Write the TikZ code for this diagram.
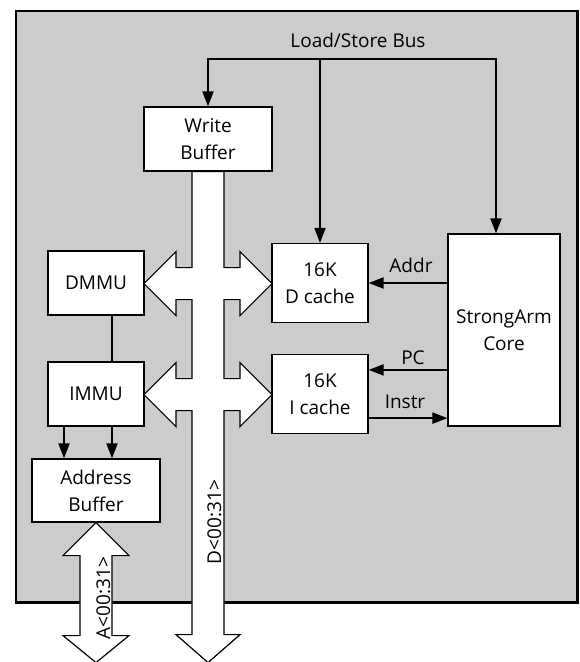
\documentclass[tikz,border=0pt]{standalone}
\usepackage{fontspec}
\usetikzlibrary{arrows.meta,calc}
\newfontfamily\SAFont{Open Sans}
\definecolor{saPanel}{HTML}{CCCCCC}
\definecolor{saInk}{HTML}{000000}
\newcommand{\SAType}{\SAFont\fontsize{19}{27}\selectfont}
\tikzset{sa/base/.style={x=1pt,y=1pt,line cap=butt,line join=miter,
  every node/.style={font=\SAType,inner sep=0pt,text=saInk}},
  sa/arrow/.style={-{Triangle[length=15pt,width=11pt]},draw=saInk,line width=2pt},
  sa/twoway/.style={{Triangle[length=15pt,width=11pt]}-{Triangle[length=15pt,width=11pt]},
    draw=saInk,line width=2pt},
  sa/link/.style={draw=saInk,line width=1.8pt},
  sa/unit/.style={draw=saInk,fill=white,line width=1.2pt,align=center},
  sa/bus/.style={draw=saInk,fill=white,line width=1.2pt},
  sa/chip/.style={draw=saInk,fill=saPanel,line width=2.5pt}}

\begin{document}
\begin{tikzpicture}[sa/base,y=-1pt]
  \useasboundingbox (0,0) rectangle (579,662);
  \draw[sa/chip] (16,11) rectangle (577.5,602.5);
  \node[sa/unit,minimum width=128pt,minimum height=64pt] (wbuf) at (208,139) {Write\\Buffer};
  \node[sa/unit,minimum width=96pt,minimum height=64pt] (dmmu) at (96,283) {DMMU};
  \node[sa/unit,minimum width=96pt,minimum height=64pt] (immu) at (96,394) {IMMU};
  \node[sa/unit,minimum width=128pt,minimum height=63pt] (abuf) at (96,490.5) {Address\\Buffer};
  \node[sa/unit,minimum width=96pt,minimum height=79pt] (dcache) at (320,283) {16K\\D cache};
  \node[sa/unit,minimum width=96pt,minimum height=79pt] (icache) at (320,394) {16K\\I cache};
  \node[sa/unit,minimum width=112pt,minimum height=192pt] (core) at (504,330) {StrongArm\\Core};
  % load/store bus along the top
  \coordinate (lsW) at (208,59);
  \coordinate (lsMid) at (320,59);
  \coordinate (lsE) at (496,59);
  \node[anchor=base] (lsLabel) at (358,47) {Load/Store Bus};
  \draw[sa/twoway] (wbuf.north) -- (lsW) -- (lsE) -- (lsE |- core.north);
  \draw[sa/arrow] (lsMid) -- (dcache.north);
  % core <-> caches
  \draw[sa/arrow] (core.west |- dcache.east) -- (dcache.east);
  \node[anchor=base] (addrLabel) at (411,272) {Addr};
  \draw[sa/arrow] ($(core.west |- icache.north east)+(0,16)$) -- ($(icache.north east)+(0,16)$);
  \node[anchor=base] (pcLabel) at (413,364) {PC};
  \draw[sa/arrow] ($(icache.south east)+(0,-16)$) -- ($(core.west |- icache.south east)+(0,-16)$);
  \node[anchor=base] (instrLabel) at (405,408) {Instr};
  % mmus to address buffer
  \draw[sa/link] ([xshift=16]dmmu.south) -- ([xshift=16]immu.north);
  \foreach \dx in {-32,16}
    \draw[sa/arrow] ([xshift=\dx]immu.south) -- ([xshift=\dx]abuf.north);
  % data bus D<00:31>
  \draw[sa/bus] ([xshift=-16]wbuf.south) -- ++(0,96) -- ++(-16,0) -- ++(0,-16)
    -- ++(-32,32) -- ++(32,32) -- ++(0,-16) -- ++(16,0) -- ++(0,79)
    -- ++(-16,0) -- ++(0,-16) -- ++(-32,32) -- ++(32,32) -- ++(0,-16) -- ++(16,0)
    -- ++(0,224) -- ++(-16,0) -- ++(32,28) -- ++(32,-28) -- ++(-16,0) -- ++(0,-224)
    -- ++(16,0) -- ++(0,16) -- ++(32,-32) -- ++(-32,-32) -- ++(0,16) -- ++(-16,0)
    -- ++(0,-79) -- ++(16,0) -- ++(0,16) -- ++(32,-32) -- ++(-32,-32) -- ++(0,16)
    -- ++(-16,0) -- ([xshift=16]wbuf.south) -- cycle;
  \node[rotate=90,anchor=base] (dLabel) at (221,522) {D<00:31>};
  % address bus A<00:31>
  \draw[sa/bus] (abuf.south) -- ++(33,33) -- ++(-17,0) -- ++(0,80) -- ++(17,0)
    -- ++(-33,27) -- ++(-33,-27) -- ++(17,0) -- ++(0,-80) -- ++(-17,0) -- cycle;
  \node[rotate=90,anchor=base] (aLabel) at (110,598) {A<00:31>};
\end{tikzpicture}
\end{document}
